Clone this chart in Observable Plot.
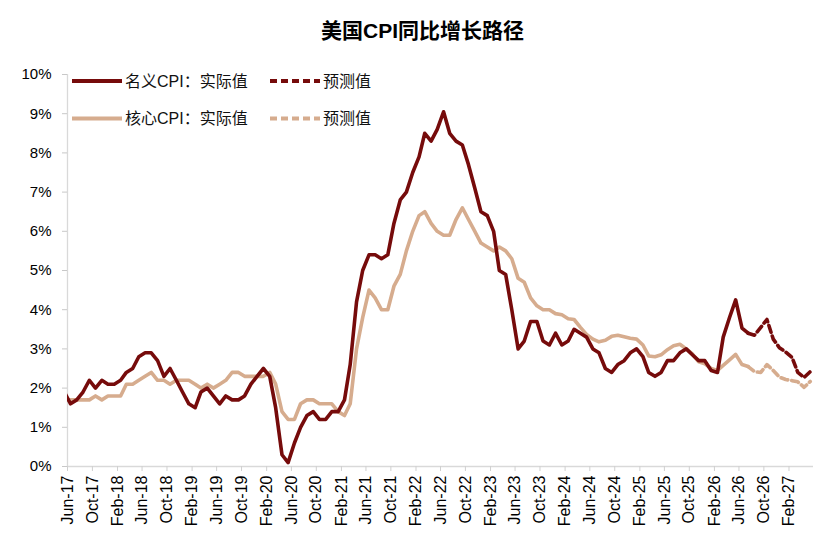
<!DOCTYPE html>
<html>
<head>
<meta charset="utf-8">
<script src="https://cdn.jsdelivr.net/npm/d3@7"></script>
<script src="https://cdn.jsdelivr.net/npm/@observablehq/plot@0.6"></script>
<style>
  html, body { margin: 0; padding: 0; background: #fff; overflow: hidden; }
  #wrap { position: relative; width: 827px; height: 544px; font-family: "Liberation Sans", Arial, "Noto Sans CJK SC", sans-serif; }
  #title { position: absolute; left: 18px; top: 19px; width: 809px; text-align: center; font-family: "Liberation Sans", Arial, "Noto Sans CJK SC", sans-serif; font-weight: bold; font-size: 21px; line-height: 24px; color: #000; }
  #chart { position: absolute; left: 0; top: 50px; }
  #legend { position: absolute; left: 0; top: 0; pointer-events: none; }
</style>
</head>
<body>
<div id="wrap">
  <div id="title">美国CPI同比增长路径</div>
  <div id="chart"></div>
  <svg id="legend" width="827" height="150"></svg>
</div>
<script>
// ---- data (monthly YoY %, first value = May-17) ----
const startMonth = "2017-05";
const headlineActual = [
  1.9, 1.6, 1.7, 1.9, 2.2, 2.0, 2.2, 2.1,                      // 2017 May-Dec
  2.1, 2.2, 2.4, 2.5, 2.8, 2.9, 2.9, 2.7, 2.3, 2.5, 2.2, 1.9,  // 2018
  1.6, 1.5, 1.9, 2.0, 1.8, 1.6, 1.8, 1.7, 1.7, 1.8, 2.1, 2.3,  // 2019
  2.5, 2.3, 1.5, 0.3, 0.1, 0.6, 1.0, 1.3, 1.4, 1.2, 1.2, 1.4,  // 2020
  1.4, 1.7, 2.6, 4.2, 5.0, 5.4, 5.4, 5.3, 5.4, 6.2, 6.8, 7.0,  // 2021
  7.5, 7.9, 8.5, 8.3, 8.6, 9.05, 8.5, 8.3, 8.2, 7.7, 7.1, 6.5, // 2022
  6.4, 6.0, 5.0, 4.9, 4.0, 3.0, 3.2, 3.7, 3.7, 3.2, 3.1, 3.4,  // 2023
  3.1, 3.2, 3.5, 3.4, 3.3, 3.0, 2.9, 2.5, 2.4, 2.6, 2.7, 2.9,  // 2024
  3.0, 2.8, 2.4, 2.3, 2.4, 2.7, 2.7, 2.9, 3.0, 2.85, 2.7, 2.7, // 2025
  2.45, 2.4, 3.3, 3.8, 4.25, 3.53, 3.4                         // 2026 Jan-Jul
];
const coreActual = [
  1.7, 1.7, 1.7, 1.7, 1.7, 1.8, 1.7, 1.8,                      // 2017 May-Dec
  1.8, 1.8, 2.1, 2.1, 2.2, 2.3, 2.4, 2.2, 2.2, 2.1, 2.2, 2.2,  // 2018
  2.2, 2.1, 2.0, 2.1, 2.0, 2.1, 2.2, 2.4, 2.4, 2.3, 2.3, 2.3,  // 2019
  2.3, 2.4, 2.1, 1.4, 1.2, 1.2, 1.6, 1.7, 1.7, 1.6, 1.6, 1.6,  // 2020
  1.4, 1.3, 1.6, 3.0, 3.8, 4.5, 4.3, 4.0, 4.0, 4.6, 4.9, 5.5,  // 2021
  6.0, 6.4, 6.5, 6.2, 6.0, 5.9, 5.9, 6.3, 6.6, 6.3, 6.0, 5.7,  // 2022
  5.6, 5.5, 5.6, 5.5, 5.3, 4.8, 4.7, 4.3, 4.1, 4.0, 4.0, 3.9,  // 2023
  3.87, 3.77, 3.75, 3.55, 3.37, 3.25, 3.18, 3.22, 3.32, 3.35, 3.31, 3.27, // 2024
  3.25, 3.1, 2.82, 2.8, 2.85, 2.98, 3.08, 3.12, 3.0, 2.87, 2.67, 2.62,    // 2025
  2.5, 2.45, 2.58, 2.72, 2.86, 2.6, 2.55                       // 2026 Jan-Jul
];
const forecastStart = "2026-07";
const headlineForecast = [3.4, 3.35, 3.55, 3.75, 3.25, 3.03, 2.92, 2.78, 2.4, 2.27, 2.42]; // Jul-26 .. May-27
const coreForecast     = [2.55, 2.42, 2.4, 2.6, 2.45, 2.28, 2.22, 2.19, 2.16, 2.02, 2.17];
const xTickLabels = ["Jun-17","Oct-17","Feb-18","Jun-18","Oct-18","Feb-19","Jun-19","Oct-19","Feb-20","Jun-20","Oct-20",
  "Feb-21","Jun-21","Oct-21","Feb-22","Jun-22","Oct-22","Feb-23","Jun-23","Oct-23","Feb-24","Jun-24","Oct-24",
  "Feb-25","Jun-25","Oct-25","Feb-26","Jun-26","Oct-26","Feb-27"];
const yTicks = [0,1,2,3,4,5,6,7,8,9,10];
const xStart = "2017-06", xEnd = "2027-06";
const seriesNames = ["名义CPI：实际值", "预测值", "核心CPI：实际值", "预测值"];

// ---- build tables ----
const parseMonth = d3.utcParse("%Y-%m");
const parseTick = d3.utcParse("%b-%y");
function toRows(start, values) {
  const s = parseMonth(start);
  return values.map((v, i) => ({date: d3.utcMonth.offset(s, i), v}));
}
const midMonth = d => d3.utcDay.offset(d.date, 15);
const RED = "#760b0b", TAN = "#d6ac8e";
const SW = 3.6;
const DASH = "7,4";

const chart = Plot.plot({
  width: 827,
  height: 494,
  marginTop: 24,
  marginBottom: 78,
  marginLeft: 67,
  marginRight: 14,
  style: {fontFamily: '"Liberation Sans", Arial, sans-serif', color: "#000", background: "#fff"},
  x: {type: "utc", domain: [parseMonth(xStart), parseMonth(xEnd)], label: null},
  y: {domain: [0, 10], label: null},
  marks: [
    Plot.ruleY([0], {stroke: "#d9d9d9", strokeWidth: 1.3}),
    Plot.ruleX([parseMonth(xStart)], {stroke: "#d9d9d9", strokeWidth: 1.3}),
    Plot.axisY({ticks: yTicks, tickFormat: d => d + "%", tickSize: 5, tickPadding: 11, fontSize: 15, stroke: "#c8c8c8", fill: "#000", label: null}),
    Plot.axisX({ticks: xTickLabels.map(parseTick), tickFormat: d3.utcFormat("%b-%y"), tickRotate: -90, tickSize: 5, tickPadding: 4, fontSize: 16, stroke: "#d0d0d0", fill: "#000", label: null}),
    Plot.line(toRows(startMonth, coreActual), {x: midMonth, y: "v", stroke: TAN, strokeWidth: SW, clip: true}),
    Plot.line(toRows(forecastStart, coreForecast), {x: midMonth, y: "v", stroke: TAN, strokeWidth: SW, strokeDasharray: DASH, clip: true}),
    Plot.line(toRows(startMonth, headlineActual), {x: midMonth, y: "v", stroke: RED, strokeWidth: SW, clip: true}),
    Plot.line(toRows(forecastStart, headlineForecast), {x: midMonth, y: "v", stroke: RED, strokeWidth: SW, strokeDasharray: DASH, clip: true})
  ]
});
document.getElementById("chart").appendChild(chart);

// ---- legend ----
const lg = d3.select("#legend");
const legendItems = [
  {name: seriesNames[0], color: RED, dash: null, x: 72, y: 81},
  {name: seriesNames[1], color: RED, dash: DASH, x: 270, y: 81},
  {name: seriesNames[2], color: TAN, dash: null, x: 72, y: 118.5},
  {name: seriesNames[3], color: TAN, dash: DASH, x: 270, y: 118.5}
];
for (const it of legendItems) {
  lg.append("line").attr("x1", it.x).attr("x2", it.x + 50).attr("y1", it.y).attr("y2", it.y)
    .attr("stroke", it.color).attr("stroke-width", 4).attr("stroke-dasharray", it.dash);
  lg.append("text").attr("x", it.x + 53).attr("y", it.y).attr("dy", "0.36em")
    .attr("font-size", 16).attr("fill", "#111")
    .attr("font-family", '"Liberation Sans", Arial, "Noto Sans CJK SC", sans-serif')
    .text(it.name);
}
</script>
</body>
</html>
